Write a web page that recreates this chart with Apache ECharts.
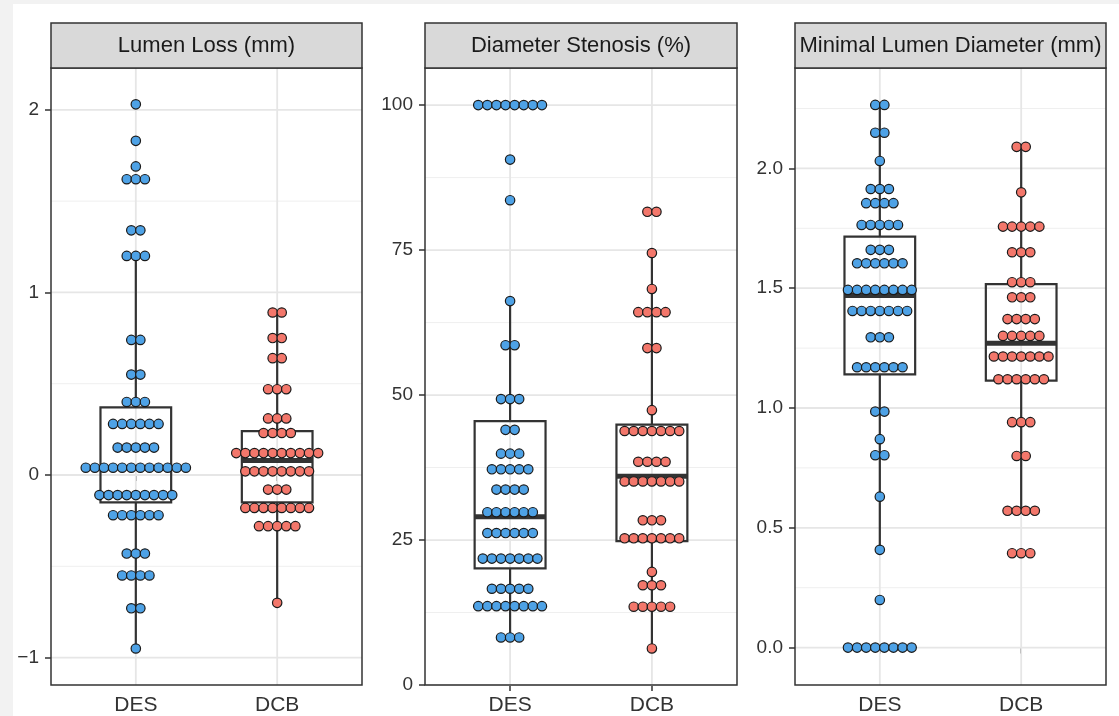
<!DOCTYPE html>
<html><head><meta charset="utf-8">
<script src="https://cdn.jsdelivr.net/npm/echarts@6/dist/echarts.min.js"></script>
<style>html,body{margin:0;padding:0;background:#fff}#c{width:1119px;height:716px}</style>
</head><body><div id="c"></div>
<script>
// ---------- DATA ----------
const groups = ['DES', 'DCB'];
const panelTitles = ['Lumen Loss (mm)', 'Diameter Stenosis (%)', 'Minimal Lumen Diameter (mm)'];
const lumenLossTicks = [-1, 0, 1, 2];
const stenosisTicks = [0, 25, 50, 75, 100];
const mldTicks = [0, 0.5, 1, 1.5, 2];

// dot rows: [value, number of stacked dots]
const lumenLossDES = [[2.03,1],[1.83,1],[1.69,1],[1.62,3],[1.34,2],[1.20,3],[0.74,2],[0.55,2],[0.40,3],[0.28,6],[0.15,5],[0.04,12],[-0.11,9],[-0.22,6],[-0.43,3],[-0.55,4],[-0.73,2],[-0.95,1]];
const lumenLossDCB = [[0.89,2],[0.75,2],[0.64,2],[0.47,3],[0.31,3],[0.23,4],[0.12,10],[0.02,8],[-0.08,3],[-0.18,8],[-0.28,5],[-0.70,1]];
const stenosisDES = [[100,8],[90.6,1],[83.6,1],[66.2,1],[58.6,2],[49.3,3],[44.0,2],[39.9,3],[37.2,5],[33.7,4],[29.8,6],[26.2,6],[21.8,7],[16.6,5],[13.6,8],[8.2,3]];
const stenosisDCB = [[81.6,2],[74.5,1],[68.3,1],[64.3,4],[58.1,2],[47.4,1],[43.8,7],[38.5,4],[35.1,7],[28.4,3],[25.3,7],[19.5,1],[17.2,3],[13.5,5],[6.3,1]];
const mldDES = [[2.265,2],[2.149,2],[2.031,1],[1.914,3],[1.855,4],[1.764,5],[1.660,3],[1.604,6],[1.493,8],[1.405,7],[1.295,3],[1.170,6],[0.985,2],[0.870,1],[0.803,2],[0.630,1],[0.408,1],[0.199,1],[0,8]];
const mldDCB = [[2.09,2],[1.90,1],[1.757,5],[1.65,3],[1.525,3],[1.462,3],[1.371,4],[1.301,5],[1.215,7],[1.12,6],[0.941,3],[0.80,2],[0.571,4],[0.394,3]];

// box stats: [lower whisker, Q1, median, Q3, upper whisker]
const lumenLossBoxDES = [-0.95, -0.15, 0.04, 0.37, 1.20];
const lumenLossBoxDCB = [-0.70, -0.15, 0.08, 0.24, 0.89];
const stenosisBoxDES = [8.2, 20.1, 29.0, 45.5, 66.2];
const stenosisBoxDCB = [6.3, 24.8, 36.0, 44.9, 74.5];
const mldBoxDES = [0.408, 1.14, 1.47, 1.715, 2.265];
const mldBoxDCB = [0.571, 1.114, 1.27, 1.517, 2.09];

// ---------- LAYOUT / STYLE ----------
const FONT = 'Liberation Sans, Arial, Helvetica, sans-serif';
const colors = ['#4ea2e6', '#f3776b'];
const DOT_R = 4.7, DOT_STEP = 9.1;
const PLOT_TOP = 68, PLOT_H = 617, STRIP_TOP = 23, STRIP_H = 45;
const panels = [
  {left: 51, width: 311, min: -1.150, max: 2.229, ticks: lumenLossTicks,
   fmt: v => (v < 0 ? '\u2212' + Math.abs(v) : String(v)),
   dots: [lumenLossDES, lumenLossDCB], boxes: [lumenLossBoxDES, lumenLossBoxDCB]},
  {left: 425, width: 312, min: 0, max: 106.4, ticks: stenosisTicks,
   fmt: v => String(v),
   dots: [stenosisDES, stenosisDCB], boxes: [stenosisBoxDES, stenosisBoxDCB]},
  {left: 795, width: 311, min: -0.156, max: 2.419, ticks: mldTicks,
   fmt: v => v.toFixed(1),
   dots: [mldDES, mldDCB], boxes: [mldBoxDES, mldBoxDCB]}
];

function minorsOf(t, min, max) {
  const step = t[1] - t[0];
  const out = [];
  for (let i = -1; i < t.length; i++) {
    const m = t[0] + (i + 0.5) * step;
    if (m > min && m < max) out.push(m);
  }
  return out;
}

const grids = [], xAxes = [], yAxes = [], series = [], graphics = [];
graphics.push({type: 'rect', shape: {x: 0, y: 0, width: 13, height: 716}, style: {fill: '#f2f2f2'}, z: 0});
graphics.push({type: 'rect', shape: {x: 0, y: 0, width: 1119, height: 4}, style: {fill: '#f2f2f2'}, z: 0});

panels.forEach((p, i) => {
  grids.push({left: p.left, top: PLOT_TOP, width: p.width, height: PLOT_H, show: true,
    borderColor: '#333333', borderWidth: 1.5, backgroundColor: 'transparent', z: 3});
  xAxes.push({type: 'value', gridIndex: i, min: 0.4, max: 2.6,
    splitLine: {show: false}, axisLine: {show: false},
    axisTick: {show: true, length: 6, customValues: [1, 2], lineStyle: {color: '#333', width: 1.5}},
    axisLabel: {customValues: [1, 2], formatter: v => groups[Math.round(v) - 1],
      fontSize: 21, color: '#333', margin: 10, fontFamily: FONT}});
  yAxes.push({type: 'value', gridIndex: i, min: p.min, max: p.max,
    splitLine: {show: false}, axisLine: {show: false},
    axisTick: {show: true, length: 6, customValues: p.ticks, lineStyle: {color: '#333', width: 1.5}},
    axisLabel: {customValues: p.ticks, formatter: p.fmt, fontSize: 19, color: '#333', margin: 12, fontFamily: FONT}});

  // gridlines
  const gl = [];
  p.ticks.forEach(v => gl.push([1, v, 0]));
  minorsOf(p.ticks, p.min, p.max).forEach(v => gl.push([1, v, 1]));
  [1, 2].forEach(v => gl.push([v, p.min, 2]));
  series.push({type: 'custom', xAxisIndex: i, yAxisIndex: i, z: 1, silent: true,
    data: gl,
    renderItem: (params, api) => {
      const cs = params.coordSys;
      const kind = api.value(2);
      if (kind === 2) {
        const x = api.coord([api.value(0), p.min])[0];
        return {type: 'line', shape: {x1: x, y1: cs.y, x2: x, y2: cs.y + cs.height},
          style: {stroke: '#e6e6e6', lineWidth: 1.8}};
      }
      const y = api.coord([1, api.value(1)])[1];
      return {type: 'line', shape: {x1: cs.x, y1: y, x2: cs.x + cs.width, y2: y},
        style: {stroke: kind === 0 ? '#e6e6e6' : '#efefef', lineWidth: kind === 0 ? 1.8 : 1}};
    }});

  // boxes
  series.push({type: 'custom', xAxisIndex: i, yAxisIndex: i, z: 4, silent: true,
    encode: {x: 0, y: [1, 2, 3, 4, 5]},
    data: p.boxes.map((b, g) => [g + 1].concat(b)),
    renderItem: (params, api) => {
      const x = api.value(0);
      const cy = k => api.coord([x, api.value(k)])[1];
      const cx = api.coord([x, 0])[0];
      const xl = api.coord([x - 0.25, 0])[0], xr = api.coord([x + 0.25, 0])[0];
      const lw = cy(1), q1 = cy(2), md = cy(3), q3 = cy(4), uw = cy(5);
      const st = {stroke: '#333333', lineWidth: 2.2};
      return {type: 'group', children: [
        {type: 'line', shape: {x1: cx, y1: uw, x2: cx, y2: q3}, style: st},
        {type: 'line', shape: {x1: cx, y1: q1, x2: cx, y2: lw}, style: st},
        {type: 'rect', shape: {x: xl, y: q3, width: xr - xl, height: q1 - q3}, style: {fill: 'none', stroke: '#333333', lineWidth: 2.2}},
        {type: 'line', shape: {x1: xl, y1: md, x2: xr, y2: md}, style: {stroke: '#333333', lineWidth: 5}}
      ]};
    }});

  // dots
  const dd = [];
  p.dots.forEach((rows, g) => rows.forEach(r => dd.push([g + 1, r[0], r[1]])));
  series.push({type: 'custom', xAxisIndex: i, yAxisIndex: i, z: 5, silent: true,
    encode: {x: 0, y: 1},
    data: dd,
    renderItem: (params, api) => {
      const g = api.value(0), n = api.value(2);
      const pt = api.coord([g, api.value(1)]);
      const ch = [];
      for (let k = 0; k < n; k++) {
        ch.push({type: 'circle', shape: {cx: pt[0] + (k - (n - 1) / 2) * DOT_STEP, cy: pt[1], r: DOT_R},
          style: {fill: colors[g - 1], stroke: '#1a1a1a', lineWidth: 1.2}});
      }
      return {type: 'group', children: ch};
    }});

  // strip
  graphics.push({type: 'rect', shape: {x: p.left, y: STRIP_TOP, width: p.width, height: STRIP_H},
    style: {fill: '#d9d9d9', stroke: '#333333', lineWidth: 1.5}, z: 10});
  graphics.push({type: 'text', x: p.left + p.width / 2, y: STRIP_TOP + STRIP_H / 2, z: 11,
    style: {text: panelTitles[i], fontSize: 22, fontFamily: FONT, fill: '#1a1a1a',
      textAlign: 'center', textVerticalAlign: 'middle'}});
});

const chart = echarts.init(document.getElementById('c'), null, {renderer: 'canvas'});
chart.setOption({
  backgroundColor: '#ffffff',
  animation: false,
  textStyle: {fontFamily: FONT},
  grid: grids, xAxis: xAxes, yAxis: yAxes, series: series, graphic: graphics
});
</script></body></html>
